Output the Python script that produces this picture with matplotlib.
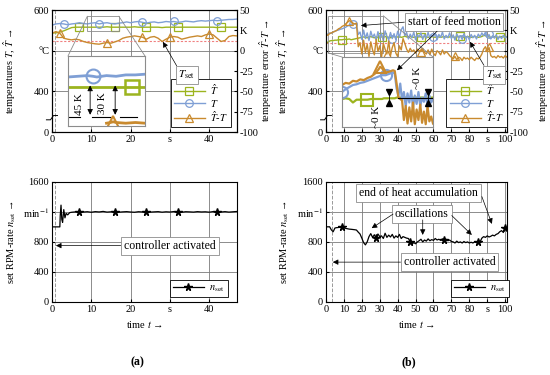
import numpy as np
import matplotlib.pyplot as plt
from matplotlib.patches import Rectangle, ConnectionPatch

plt.rcParams['font.family'] = ['Liberation Serif', 'DejaVu Serif']
plt.rcParams['mathtext.fontset'] = 'stix'
plt.rcParams['font.size'] = 7.5

# ---------------- panel (a) : temperatures ----------------
t_a = np.arange(48)
T_hat_a = [544, 544, 546, 549, 553, 557, 558, 558, 558, 558,
           558, 558, 558, 558, 559, 558, 558, 558, 558, 558,
           558, 559, 558, 558, 558, 558, 558, 558, 557, 558,
           558, 558, 558, 558, 558, 558, 558, 558, 558, 558,
           558, 558, 557, 558, 558, 558, 558, 558]
T_a = [563, 566, 567, 566, 564, 566, 567, 569, 567, 566,
       568, 569, 566, 568, 569, 567, 566, 568, 569, 571,
       569, 571, 572, 570, 568, 570, 571, 569, 570, 572,
       571, 572, 570, 571, 573, 572, 571, 573, 574, 573,
       574, 575, 574, 575, 576, 577, 577, 578]
err_a = [21.5, 23.6, 21.5, 15.4, 14.2, 13.4, 14.2, 13.4, 11.4, 10.1,
         9.3, 8.5, 8.1, 9.3, 10.1, 9.3, 10.9, 12.6, 15.4, 16.7,
         17.5, 18.3, 17.5, 16.7, 14.2, 16.7, 17.5, 15.4, 11.4, 14.2,
         16.7, 17.5, 16.7, 14.2, 15.4, 16.7, 17.5, 18.3, 17.5, 19.5,
         20.7, 19.5, 15.4, 11.4, 12.6, 17.5, 18.7, 18.3]
T_set_a = 525
marks_a = {'hat': [7, 16, 24, 32, 43], 'T': [3, 12, 23, 31, 42], 'err': [2, 14, 23, 30, 40]}

# ---------------- panel (b) : temperatures ----------------
t_b = np.arange(102)
T_hat_b = [523, 520, 524, 525, 525, 526, 526, 527, 527, 527,
           528, 528, 528, 529, 527, 528, 529, 530, 531, 532,
           533, 534, 533, 532, 534, 535, 533, 532, 534, 533,
           535, 534, 533, 535, 534, 533, 532, 534, 535, 533,
           534, 535, 533, 534, 536, 534, 533, 535, 534, 533,
           534, 533, 535, 534, 533, 535, 534, 533, 534, 535,
           534, 533, 535, 534, 533, 534, 535, 534, 533, 534,
           535, 534, 533, 534, 535, 536, 534, 533, 534, 535,
           534, 533, 534, 535, 534, 533, 534, 535, 538, 537,
           535, 534, 533, 534, 535, 534, 533, 534, 535, 534,
           535, 534]
T_b = [539, 541, 544, 543, 546, 548, 550, 551, 553, 554,
       556, 558, 561, 563, 565, 567, 566, 565, 540, 546,
       528, 551, 530, 544, 525, 548, 533, 541, 526, 547,
       531, 543, 524, 549, 535, 528, 545, 530, 542, 527,
       548, 533, 552, 559, 537, 545, 529, 541, 532, 546,
       527, 539, 534, 544, 528, 540, 531, 545, 530, 538,
       535, 543, 527, 540, 533, 546, 529, 538, 532, 544,
       530, 539, 526, 541, 533, 537, 528, 542, 531, 536,
       527, 540, 532, 538, 529, 541, 534, 544, 537, 546,
       533, 540, 529, 537, 531, 539, 528, 536, 530, 538,
       532, 535]
err_b = [20, 19, 21, 22, 23, 24, 25, 27, 28, 30,
         31, 33, 35, 37, 36, 34, 33, 34, 5, 10,
         -4, 13, -2, 8, -7, 11, 1, -5, 14, -1,
         6, -8, 9, 2, -4, 12, -6, 4, 10, -3,
         -7, 6, 1, 15, 9, 2, -2, 3, -1, 1,
         -3, 2, 0, -1, 3, -2, -4, 1, -5, 2,
         -3, -6, 0, -2, -5, 1, -4, -1, -3, -6,
         -8, -10, -7, -11, -8, -9, -12, -8, -10, -9,
         -11, -8, -10, -12, -9, -10, -8, -4, 2, 5,
         -1, 4, -6, -8, -7, -9, -6, -8, -7, -9,
         -6, -8]
T_set_b = 518
marks_b = {'hat': [9, 31, 53, 75, 97], 'T': [15, 37, 60, 76, 91], 'err': [13, 34, 53, 72, 91]}

# ---------------- set RPM-rate ----------------
t_n_a = [0, 1, 2, 2.1, 2.3, 2.5, 2.7, 3.0, 3.3, 3.6, 4, 4.5, 5, 6] + list(range(7, 48))
n_a = [1000, 1000, 1000, 1150, 1290, 1100, 1060, 1230, 1120, 1180, 1160, 1190, 1195, 1200,
       1205, 1198, 1202, 1195, 1203, 1199, 1206, 1197, 1201, 1204,
       1196, 1200, 1203, 1198, 1195, 1202, 1199, 1205, 1197, 1200,
       1203, 1196, 1201, 1198, 1204, 1199, 1195, 1202, 1200, 1197,
       1203, 1199, 1201, 1196, 1204, 1200, 1198, 1203, 1197, 1201, 1205]
stars_a = [7, 16, 24, 32, 42]

n_b = [1004, 1000, 1002, 960, 935, 985, 990, 992, 995, 998,
       990, 980, 975, 970, 968, 965, 962, 958, 930, 905,
       850, 790, 760, 800, 870, 910, 860, 895, 850, 905,
       870, 880, 845, 915, 860, 890, 865, 900, 850, 880,
       860, 900, 845, 870, 860, 850, 845, 800, 770, 790,
       775, 800, 815, 835, 800, 825, 810, 840, 815, 830,
       820, 845, 825, 835, 820, 840, 830, 835, 815, 825,
       805, 800, 785, 810, 790, 800, 785, 805, 790, 800,
       785, 795, 785, 800, 790, 795, 800, 850, 870, 860,
       880, 865, 875, 890, 880, 900, 910, 935, 950, 925,
       990, 975]
stars_b = [9, 28, 47, 66, 85, 100]

# ---------------- zoom insets (normalised height) ----------------
ins_a_t = [9, 10, 11, 11.6, 12, 13, 14, 15, 15.6, 16, 17]
ins_a_T = [0.70, 0.71, 0.72, 0.71, 0.70, 0.72, 0.71, 0.73, 0.73, 0.73, 0.74]
ins_a_hat = [0.56, 0.56, 0.56, 0.56, 0.56, 0.56, 0.56, 0.56, 0.56, 0.56, 0.56]
ins_a_err_t = [13.0, 13.4, 13.7, 14.0, 15, 16, 17]
ins_a_err = [0.04, 0.05, 0.06, 0.05, 0.04, 0.05, 0.04]

ins_b_t = [8, 10, 12, 14, 16, 18, 20, 22, 24, 26, 28, 29, 30, 31, 32, 34, 36,
           37, 38, 39, 40, 41, 42, 43, 44, 45, 46, 47, 48, 49, 50, 51, 52, 53, 54, 55, 56, 57, 58]
ins_b_err = [0.60, 0.63, 0.62, 0.66, 0.65, 0.68, 0.67, 0.70, 0.72, 0.76, 0.82,
             0.86, 0.84, 0.80, 0.78, 0.79, 0.81,
             0.80, 0.62, 0.42, 0.40, 0.38, 0.10, 0.30, 0.05, 0.28, 0.08, 0.35,
             0.04, 0.25, 0.10, 0.32, 0.06, 0.22, 0.04, 0.30, 0.08, 0.15, 0.05]
ins_b_T = [0.50, 0.54, 0.57, 0.60, 0.61, 0.63, 0.64, 0.66, 0.68, 0.70, 0.72,
           0.73, 0.74, 0.74, 0.74, 0.76, 0.78,
           0.76, 0.55, 0.45, 0.62, 0.38, 0.50, 0.30, 0.48, 0.35, 0.52, 0.28,
           0.45, 0.33, 0.50, 0.30, 0.42, 0.36, 0.48, 0.30, 0.45, 0.35, 0.40]
ins_b_hat = [0.40, 0.41, 0.40, 0.35, 0.39, 0.39, 0.39, 0.39, 0.40, 0.40, 0.40,
             0.40, 0.40, 0.41, 0.41, 0.41, 0.41,
             0.41, 0.42, 0.42, 0.42, 0.42, 0.42, 0.42, 0.42, 0.42, 0.42, 0.42,
             0.42, 0.42, 0.42, 0.42, 0.42, 0.42, 0.42, 0.42, 0.42, 0.42, 0.42]

c_hat = '#9cb41f'
c_T = '#7f9fd5'
c_err = '#c98a2e'
c_set = '#f08080'
c_grid = '#7a7a7a'
c_box = '#8c8c8c'
box_style = dict(boxstyle='square,pad=0.25', fc='white', ec=c_box, lw=0.6)
arrow_style = dict(arrowstyle='-|>', color='k', lw=0.5, mutation_scale=8, shrinkA=0, shrinkB=0)

lab_hat = r'$\hat{T}$'
lab_T = r'$T$'
lab_err = r'$\hat{T}$-$T$'
lab_fs = 7.5

fig = plt.figure(figsize=(5.5, 3.75), dpi=100)


def style_axes(ax):
    ax.grid(True, color=c_grid, lw=0.6)
    ax.set_axisbelow(True)
    ax.tick_params(direction='in', length=2, labelsize=7.5, pad=2)
    for s in ax.spines.values():
        s.set_linewidth(0.8)


def temp_panel(rect, t, T_hat, T, err, T_set, xmax, xticks, xticklabels, marks, t_ctrl):
    ax = fig.add_axes(rect)
    ax2 = ax.twinx()
    style_axes(ax)
    ax2.tick_params(direction='in', length=2, labelsize=7.5, pad=2)
    ax.axhline(T_set, color=c_set, lw=0.8, ls=(0, (2, 1.5)))
    ax.axvline(t_ctrl, color='#999999', lw=0.7, ls='--')
    mk = dict(ms=5.5, mfc='none', mew=0.9)
    h1, = ax.plot(t, T_hat, color=c_hat, lw=1.0, marker='s', markevery=marks['hat'], label=lab_hat, **mk)
    h2, = ax.plot(t, T, color=c_T, lw=1.0, marker='o', markevery=marks['T'], label=lab_T, **mk)
    h3, = ax2.plot(t, err, color=c_err, lw=1.0, marker='^', markevery=marks['err'], label=lab_err, **mk)
    ax.set_xlim(0, xmax)
    ax.set_ylim(300, 600)
    ax2.set_ylim(-100, 50)
    ax.set_xticks(xticks)
    ax.set_xticklabels(xticklabels)
    ax.set_yticks([300, 400, 500, 600])
    ax.set_yticklabels(['0', '400', '°C', '600'])
    ax2.set_yticks([-100, -75, -50, -25, 0, 25, 50])
    ax2.set_yticklabels(['-100', '-75', '-50', '-25', '0', 'K', '50'])
    ax.set_ylabel(r'temperatures $T$, $\hat{T}$ →', fontsize=lab_fs)
    ax2.set_ylabel(r'temperature error $\hat{T}$-$T$ →', fontsize=lab_fs)
    # axis break mark on the left axis
    ax.plot([-0.03, -0.008, 0.008, 0.03], [0.10, 0.10, 0.135, 0.135], transform=ax.transAxes,
            color='k', lw=0.7, clip_on=False)
    return ax, ax2, [h1, h2, h3]


def rpm_panel(rect, t, n, xmax, xticks, xticklabels, stars, t_ctrl):
    ax = fig.add_axes(rect)
    style_axes(ax)
    ax.axvline(t_ctrl, color='#999999', lw=0.7, ls='--')
    idx = [list(t).index(v) for v in stars]
    ax.plot(t, n, color='k', lw=0.9, marker='*', ms=5.5, markevery=idx, label=r'$n_{\mathrm{set}}$')
    ax.set_xlim(0, xmax)
    ax.set_ylim(0, 1600)
    ax.set_xticks(xticks)
    ax.set_xticklabels(xticklabels)
    ax.set_yticks([0, 400, 800, 1200, 1600])
    ax.set_yticklabels(['0', '400', '800', 'min$^{-1}$', '1600'])
    ax.set_ylabel(r'set RPM-rate $n_{\mathrm{set}}$ →', fontsize=lab_fs)
    ax.set_xlabel(r'time $t$ →', fontsize=7.5)
    return ax


def legend(ax, handles, anchor):
    leg = ax.legend(handles=handles, loc='lower right', bbox_to_anchor=anchor, fontsize=7.5,
                    handlelength=3.0, labelspacing=0.1, borderpad=0.3, borderaxespad=0,
                    handletextpad=0.5, fancybox=False, framealpha=1, edgecolor='k')
    leg.get_frame().set_linewidth(0.6)


# ---------------- (a) ----------------
ax_a, ax_a2, hs_a = temp_panel([0.0945, 0.648, 0.336, 0.325], t_a, T_hat_a, T_a, err_a, T_set_a,
                               47, [0, 10, 20, 30, 40], ['0', '10', '20', 's', '40'], marks_a, 0.8)
ax_a.yaxis.set_label_coords(-0.185, 0.5)
ax_a2.yaxis.set_label_coords(1.115, 0.5)
legend(ax_a2, hs_a, (0.97, 0.04))
ax_a2.annotate(r'$T_{\mathrm{set}}$', xy=(28.2, 522), xytext=(34.3, 440),
               xycoords=ax_a.transData, textcoords=ax_a.transData, ha='center', va='center',
               fontsize=8, bbox=box_style, arrowprops=dict(relpos=(0.0, 1.0), **arrow_style), zorder=6)
ax_a.add_patch(Rectangle((9, 548), 8, 37, fill=False, ec=c_box, lw=0.6, zorder=4))

ins_a = fig.add_axes([68 / 550, 1 - 126 / 375, 77 / 550, 70 / 375], zorder=5)
ins_a.set_xlim(9, 17)
ins_a.set_ylim(0, 1)
ins_a.set_xticks([])
ins_a.set_yticks([])
for s in ins_a.spines.values():
    s.set_color(c_box)
    s.set_linewidth(0.8)
ins_a.plot(ins_a_t, ins_a_T, color=c_T, lw=2, marker='o', ms=10, mfc='none', mew=1.5, markevery=[3])
ins_a.plot(ins_a_t, ins_a_hat, color=c_hat, lw=2, marker='s', ms=10, mfc='none', mew=1.8, markevery=[8])
ins_a.plot(ins_a_err_t, ins_a_err, color=c_err, lw=2, marker='^', ms=9, mfc='none', mew=1.5, markevery=[2])
for x0, x1 in [(9.0, 10.25), (11.5, 13.4), (14.4, 16.2)]:
    ins_a.plot([x0, x1], [0.13, 0.13], color='k', lw=0.8)
for x in [11.3, 13.9]:
    ins_a.annotate('', xy=(x, 0.58), xytext=(x, 0.16),
                   arrowprops=dict(arrowstyle='<|-|>', color='k', lw=0.6, mutation_scale=8, shrinkA=0, shrinkB=0))
ins_a.text(10.2, 0.32, '45 K', rotation=90, ha='center', va='center', fontsize=8)
ins_a.text(12.6, 0.32, '30 K', rotation=90, ha='center', va='center', fontsize=8)
for xa, xb in [((9, 585), (0, 1)), ((17, 585), (1, 1))]:
    fig.add_artist(ConnectionPatch(xyA=xa, coordsA=ax_a.transData, xyB=xb, coordsB=ins_a.transAxes,
                                   color=c_box, lw=0.6))

n_ax_a = rpm_panel([0.0945, 0.195, 0.336, 0.32], t_n_a, n_a, 47, [0, 10, 20, 30, 40],
                   ['0', '10', '20', 's', '40'], stars_a, 0.8)
n_ax_a.yaxis.set_label_coords(-0.185, 0.5)
legend(n_ax_a, None, (0.95, 0.04))
n_ax_a.annotate('controller activated', xy=(1.0, 750), xytext=(30, 750), ha='center', va='center',
                fontsize=8.5, bbox=box_style, arrowprops=arrow_style)

# ---------------- (b) ----------------
xt_b = [0, 10, 20, 30, 40, 50, 60, 70, 80, 90, 100]
xl_b = ['0', '10', '20', '30', '40', '50', '60', '70', '80', 's', '100']
ax_b, ax_b2, hs_b = temp_panel([0.5927, 0.648, 0.329, 0.325], t_b, T_hat_b, T_b, err_b, T_set_b,
                               101, xt_b, xl_b, marks_b, 3.2)
ax_b.yaxis.set_label_coords(-0.195, 0.5)
ax_b2.yaxis.set_label_coords(1.155, 0.5)
legend(ax_b2, hs_b, (1.0, 0.04))
ax_b2.annotate(r'$T_{\mathrm{set}}$', xy=(80.4, 522), xytext=(93.9, 441),
               xycoords=ax_b.transData, textcoords=ax_b.transData, ha='center', va='center',
               fontsize=8, bbox=box_style, arrowprops=dict(relpos=(0.0, 1.0), **arrow_style), zorder=6)
ax_b2.annotate('start of feed motion', xy=(19.5, 562), xytext=(71.5, 571),
               xycoords=ax_b.transData, textcoords=ax_b.transData, ha='center', va='center',
               fontsize=8.5, bbox=box_style, arrowprops=dict(relpos=(0.0, 0.5), **arrow_style))
ax_b.add_patch(Rectangle((1, 495), 31, 91, fill=False, ec=c_box, lw=0.6, zorder=4))

ins_b = fig.add_axes([342 / 550, 1 - 127 / 375, 91 / 550, 70 / 375], zorder=5)
ins_b.set_xlim(8, 58)
ins_b.set_ylim(0, 1)
ins_b.set_xticks([])
ins_b.set_yticks([])
for s in ins_b.spines.values():
    s.set_color(c_box)
    s.set_linewidth(0.8)
ins_b.plot(ins_b_t, ins_b_hat, color=c_hat, lw=1.6, marker='s', ms=8, mfc='none', mew=1.5, markevery=[7])
ins_b.plot(ins_b_t, ins_b_T, color=c_T, lw=1.6, marker='o', ms=8, mfc='none', mew=1.5, markevery=[0, 14])
ins_b.plot(ins_b_t, ins_b_err, color=c_err, lw=1.6, marker='^', ms=9, mfc='none', mew=1.5, markevery=[11])
ins_b.plot([39, 58], [0.42, 0.42], color='k', lw=0.8)
for x in [33.6, 55]:
    ins_b.plot([x], [0.50], marker='v', color='k', ms=4)
    ins_b.plot([x], [0.34], marker='^', color='k', ms=4)
    ins_b.plot([x, x], [0.34, 0.50], color='k', lw=0.6)
ins_b.text(26.7, 0.15, '~0 K', rotation=90, ha='center', va='center', fontsize=8)
ins_b.text(49.6, 0.70, '~0 K', rotation=90, ha='center', va='center', fontsize=8)
ins_b.annotate('', xy=(38.2, 0.81), xytext=(62, 548), textcoords=ax_b.transData, arrowprops=arrow_style)
for xa, xb in [((1, 495), (0, 1)), ((32, 586), (1, 1))]:
    fig.add_artist(ConnectionPatch(xyA=xa, coordsA=ax_b.transData, xyB=xb, coordsB=ins_b.transAxes,
                                   color=c_box, lw=0.6))

n_ax_b = rpm_panel([0.5927, 0.195, 0.329, 0.32], list(t_b), n_b, 101, xt_b, xl_b, stars_b, 3.2)
n_ax_b.yaxis.set_label_coords(-0.195, 0.5)
legend(n_ax_b, None, (1.01, 0.04))
n_ax_b.annotate('controller activated', xy=(3.8, 530), xytext=(69, 530), ha='center', va='center',
                fontsize=8.5, bbox=box_style, arrowprops=arrow_style)
n_ax_b.text(51.5, 1455, 'end of heat accumulation', ha='center', va='center', fontsize=8.5, bbox=box_style)
n_ax_b.annotate('', xy=(92.6, 1040), xytext=(87, 1404), arrowprops=arrow_style)
n_ax_b.text(53.5, 1170, 'oscillations', ha='center', va='center', fontsize=8.5, bbox=box_style)
for start, end in [((37.4, 1170), (25.5, 983)), ((54, 1093), (54, 893)), ((70.2, 1151), (81.4, 893))]:
    n_ax_b.annotate('', xy=end, xytext=start, arrowprops=arrow_style)

fig.text(137 / 550, 1 - 362 / 375, '(a)', ha='center', va='center', fontsize=8.5, fontweight='bold')
fig.text(409 / 550, 1 - 362 / 375, '(b)', ha='center', va='center', fontsize=8.5, fontweight='bold')

fig.savefig('out.png', dpi=100)
